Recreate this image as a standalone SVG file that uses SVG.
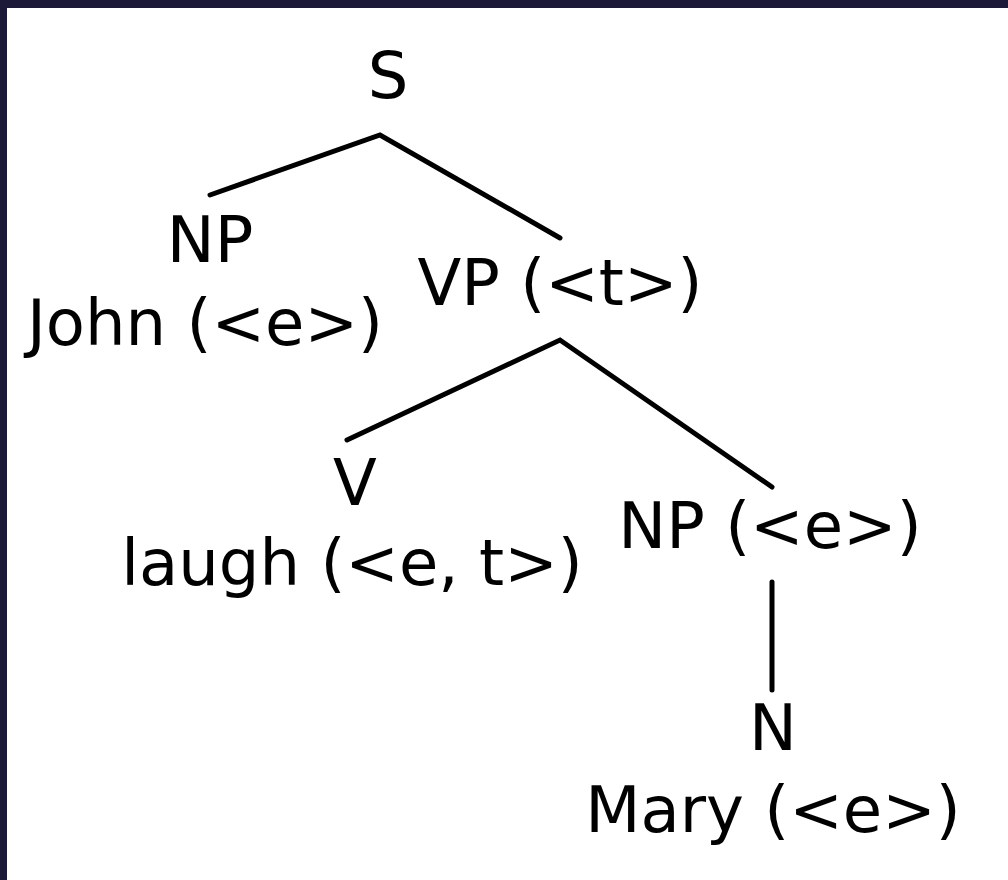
<svg xmlns="http://www.w3.org/2000/svg" width="1008" height="880" viewBox="0 0 1008 880">
<style>
text{font-family:"DejaVu Sans","Liberation Sans",sans-serif;font-size:64px;fill:#000;text-anchor:middle}
.e{stroke:#000;stroke-width:5;fill:none;stroke-linecap:round;stroke-linejoin:miter}
</style>
<rect x="0" y="0" width="1008" height="880" fill="#fff"/>
<rect x="0" y="0" width="1008" height="8" fill="#1c1838"/>
<rect x="0" y="0" width="7" height="880" fill="#1c1838"/>
<g id="connectors">
<polyline class="e" points="210,195 380,135 560,238"/>
<polyline class="e" points="347,440 560,340 772,487"/>
<line class="e" x1="772" y1="582" x2="772" y2="690"/>
</g>
<g id="S"><text x="388" y="98">S</text></g>
<g id="NP1"><text x="210" y="262">NP</text><text x="205" y="345">John (&lt;e&gt;)</text></g>
<g id="VP"><text x="560" y="305">VP (&lt;t&gt;)</text></g>
<g id="V"><text x="355" y="505">V</text><text x="352" y="585">laugh (&lt;e, t&gt;)</text></g>
<g id="NP2"><text x="770" y="548">NP (&lt;e&gt;)</text></g>
<g id="N"><text x="773" y="750">N</text><text x="773" y="832">Mary (&lt;e&gt;)</text></g>
</svg>
